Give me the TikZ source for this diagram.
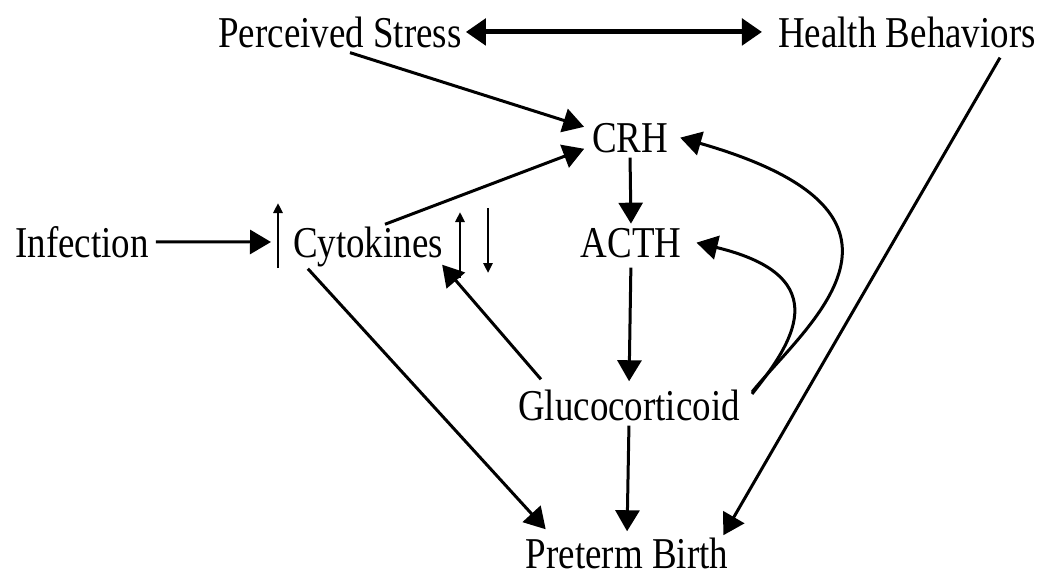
\documentclass[tikz,border=0pt]{standalone}
\usepackage{fontspec}
\setmainfont{Liberation Serif}[FakeStretch=0.84]
\usetikzlibrary{arrows.meta}

\begin{document}
\begin{tikzpicture}[
      x=1pt, y=-1pt,
      lbl/.style={inner sep=2pt, anchor=base, font=\fontsize{44}{48}\selectfont},
      arr/.style={-{Triangle[length=21pt,width=24pt]}, line width=3pt},
      dbl/.style={{Triangle[length=20pt,width=26pt]}-{Triangle[length=20pt,width=26pt]}, line width=5pt},
      tick/.style={-{Triangle[length=10pt,width=9pt]}, line width=2.5pt}
  ]
    \useasboundingbox (0,0) rectangle (1039,576);
    \node[lbl] (ps) at (340,47) {Perceived Stress};
    \node[lbl] (hb) at (907,47) {Health Behaviors};
    \node[lbl] (crh) at (630,152) {CRH};
    \node[lbl] (acth) at (631,257) {ACTH};
    \node[lbl] (inf) at (82,257) {Infection};
    \node[lbl] (cyto) at (368,257) {Cytokines};
    \node[lbl] (gc) at (629,420) {Glucocorticoid};
    \node[lbl] (pb) at (627,568) {Preterm Birth};
    % up/down marks next to cytokines
    \coordinate (luB) at (278,268);
    \coordinate (luT) at (278,203);
    \coordinate (luM) at (278,242);
    \coordinate (ruB) at (460,278);
    \coordinate (ruT) at (460,212);
    \coordinate (rdT) at (488,208);
    \coordinate (rdB) at (488,273);
    \draw[tick] (luB) -- (luT);
    \draw[tick] (ruB) -- (ruT);
    \draw[tick] (rdT) -- (rdB);
    \draw[dbl, shorten <=2pt, shorten >=14pt] (ps.east) -- (hb.west);
    \draw[arr, shorten >=6pt] ([xshift=10pt,yshift=-3pt]ps.south) -- ([yshift=9pt]crh.west);
    \draw[arr, shorten >=6pt] ([xshift=17pt]cyto.north) -- ([yshift=-9pt]crh.west);
    \draw[arr, shorten <=3pt, shorten >=2pt] (crh.south) -- (acth.north);
    \draw[arr, shorten <=8pt, shorten >=6pt] (acth.south) -- (gc.north);
    \draw[arr, shorten <=3pt, shorten >=4pt] (gc.south) -- (pb.north);
    \draw[arr] ([xshift=25pt,yshift=8pt]gc.north west) -- ([xshift=-3pt,yshift=4pt]cyto.south east);
    \draw[arr] ([xshift=17pt]cyto.south west) -- ([xshift=22pt,yshift=6pt]pb.north west);
    \draw[arr] ([xshift=-38pt,yshift=-8pt]hb.south east) -- ([xshift=-7pt,yshift=0pt]pb.north east);
    \draw[arr, shorten <=5pt, shorten >=7pt] (inf) -- (luM);
    \draw[arr] ([xshift=10pt,yshift=11pt]gc.east) .. controls (791,345) and (839,277) .. ([xshift=13pt]acth.east);
    \draw[arr] ([xshift=10pt,yshift=13pt]gc.east) .. controls (806,325) and (950,215) .. ([xshift=10pt]crh.east);
  \end{tikzpicture}
\end{document}
